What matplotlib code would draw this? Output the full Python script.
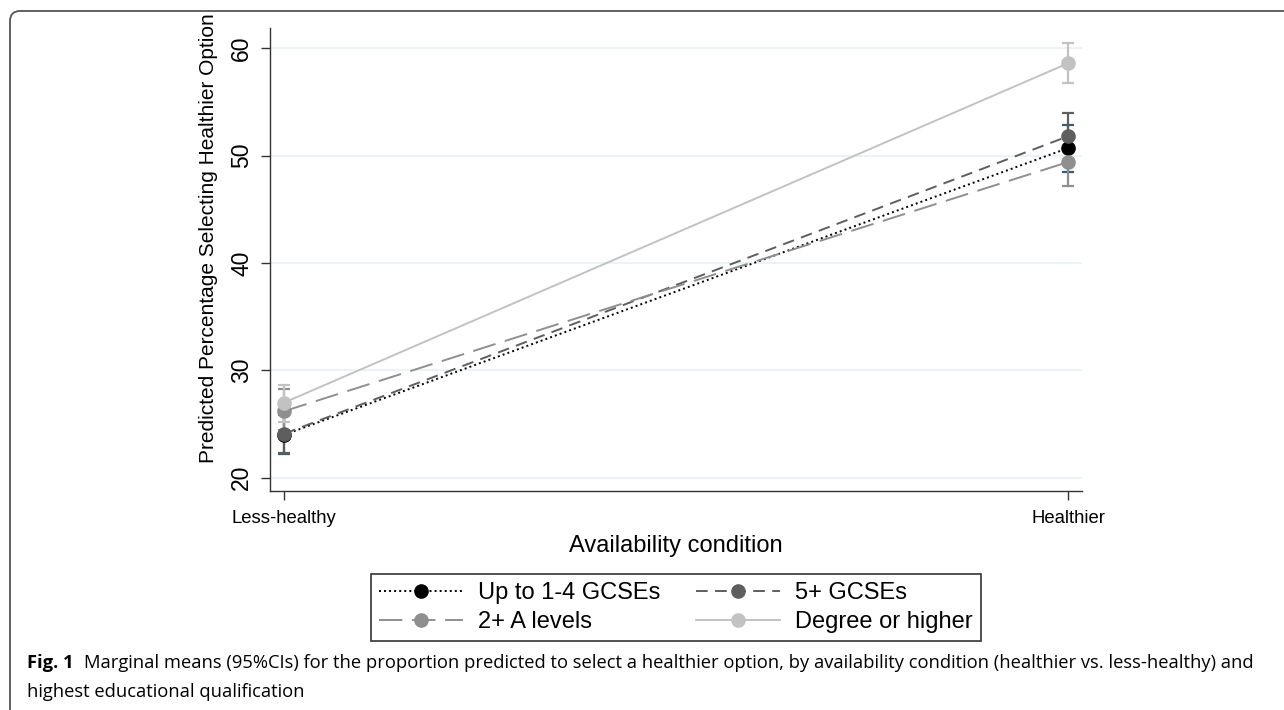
import matplotlib
matplotlib.use("Agg")
import matplotlib.pyplot as plt
from matplotlib.lines import Line2D
from matplotlib.path import Path
from matplotlib.patches import PathPatch

# ---------------- data ----------------
conditions = ["Less-healthy", "Healthier"]
series_names = ["Up to 1-4 GCSEs", "5+ GCSEs", "2+ A levels", "Degree or higher"]
means_up_to_gcse = [24.0, 50.7]
lower_up_to_gcse = [22.2, 48.5]
upper_up_to_gcse = [25.8, 52.9]
means_5_gcse = [24.1, 51.8]
lower_5_gcse = [22.3, 49.6]
upper_5_gcse = [25.9, 54.0]
means_a_levels = [26.2, 49.4]
lower_a_levels = [24.4, 47.15]
upper_a_levels = [28.3, 51.6]
means_degree = [27.0, 58.6]
lower_degree = [25.2, 56.75]
upper_degree = [28.65, 60.5]
y_ticks = [20, 30, 40, 50, 60]

W, H = 1284, 710
fig = plt.figure(figsize=(W / 100, H / 100), dpi=100)
fig.patch.set_facecolor("white")

def fx(px):
    return px / W

def fy(py):
    return 1 - py / H

ax = fig.add_axes([fx(270), fy(491), fx(1082) - fx(270), fy(28) - fy(491)])
ax.set_xlim(-0.0182, 1.0179)
ax.set_ylim(18.76, 61.89)

styles = [
    dict(color="#000000", ci="#3a5a7c", ls=(0, (1, 1.6))),
    dict(color="#5e5e5e", ci="#5e5e5e", ls=(0, (6, 3.8))),
    dict(color="#8f8f8f", ci="#8f8f8f", ls=(0, (12, 5))),
    dict(color="#c2c2c2", ci="#c2c2c2", ls="solid"),
]
means = [means_up_to_gcse, means_5_gcse, means_a_levels, means_degree]
lowers = [lower_up_to_gcse, lower_5_gcse, lower_a_levels, lower_degree]
uppers = [upper_up_to_gcse, upper_5_gcse, upper_a_levels, upper_degree]
x = list(range(len(conditions)))

for yt in y_ticks:
    ax.axhline(yt, color="#eaf2f3", lw=1.3, zorder=0)

# confidence intervals
for m, lo, up, st in zip(means, lowers, uppers, styles):
    yerr = [[mi - l for mi, l in zip(m, lo)], [u - mi for mi, u in zip(m, up)]]
    ax.errorbar(x, m, yerr=yerr, fmt="none", ecolor=st["ci"], elinewidth=1.6,
                capsize=4.6, capthick=1.6, zorder=2)

# connected means
for m, st in zip(means, styles):
    ax.plot(x, m, color=st["color"], ls=st["ls"], lw=1.4, zorder=3)
for m, st in zip(means, styles):
    ax.plot(x, m, ls="none", marker="o", ms=9.5, mfc=st["color"], mec=st["color"], zorder=4)

ax.set_xticks(x)
ax.set_xticklabels(conditions, fontsize=13.3, family="Liberation Sans")
ax.set_yticks(y_ticks)
ax.set_yticklabels([str(v) for v in y_ticks], fontsize=16.5, rotation=90,
                   va="center", family="Liberation Sans")
ax.tick_params(axis="both", direction="out", length=6.5, width=1.0, color="#333333")
ax.tick_params(axis="x", pad=7)
ax.tick_params(axis="y", pad=5.5)
for side in ["top", "right"]:
    ax.spines[side].set_visible(False)
for side in ["left", "bottom"]:
    ax.spines[side].set_color("#333333")
    ax.spines[side].set_linewidth(1.0)
ax.set_facecolor("white")

fig.text(fx(208), fy(238), "Predicted Percentage Selecting Healthier Option",
         rotation=90, ha="center", va="center", fontsize=15, family="Liberation Sans")
fig.text(fx(676), fy(546), "Availability condition", ha="center", va="center",
         fontsize=17, family="Liberation Sans")

handles = [Line2D([], [], color=st["color"], ls=st["ls"], lw=1.4, marker="o",
                  ms=9.5, mfc=st["color"], mec=st["color"]) for st in styles]
# legend is filled row-wise in the reference: reorder for matplotlib's column-wise fill
order = [0, 2, 1, 3]
leg = ax.legend([handles[i] for i in order], [series_names[i] for i in order],
                loc="center", ncol=2,
                bbox_to_anchor=(fx(676), fy(607.5)), bbox_transform=fig.transFigure,
                prop={"family": "Liberation Sans", "size": 17}, frameon=True,
                fancybox=False, edgecolor="#000000", handlelength=3.55,
                handletextpad=0.64, columnspacing=1.5, labelspacing=0.3,
                borderpad=0.35, markerscale=1.0)
leg.get_frame().set_linewidth(1.2)

# caption
cap_font = "Open Sans"
cap_size = 13.2
t1 = fig.text(fx(27), fy(663), "Fig. 1", ha="left", va="center", fontsize=cap_size,
              fontweight="bold", family=cap_font)
fig.canvas.draw()
bb = t1.get_window_extent()
fig.text((bb.x1 + 10) / W, fy(663),
         "Marginal means (95%CIs) for the proportion predicted to select a healthier option, "
         "by availability condition (healthier vs. less-healthy) and",
         ha="left", va="center", fontsize=cap_size, family=cap_font)
fig.text(fx(27), fy(692), "highest educational qualification", ha="left", va="center",
         fontsize=cap_size, family=cap_font)

# border
r = 10
verts = [(fx(10), fy(H + 2)), (fx(10), fy(11 + r)), (fx(10), fy(11)), (fx(10 + r), fy(11)),
         (fx(W + 2), fy(11))]
codes = [Path.MOVETO, Path.LINETO, Path.CURVE3, Path.CURVE3, Path.LINETO]
fig.add_artist(PathPatch(Path(verts, codes), transform=fig.transFigure, fill=False,
                         edgecolor="#555555", lw=1.3))

fig.savefig("out.png", dpi=100)
